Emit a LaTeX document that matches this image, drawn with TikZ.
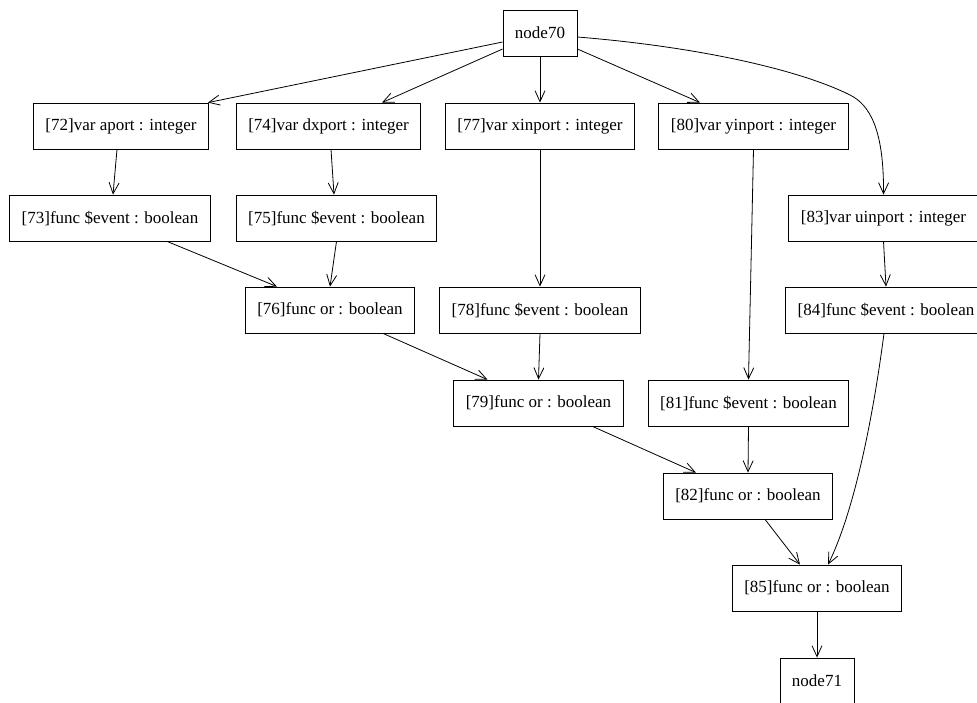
\documentclass[tikz,border=0pt]{standalone}
\usepackage{fontspec}
\setmainfont{Liberation Serif}
\usepackage{tikz}
\usetikzlibrary{arrows.meta}

\begin{document}
\begin{tikzpicture}[
  x=1pt, y=-1pt,
  box/.style={draw, line width=0.8pt, align=center, inner xsep=12pt, minimum height=46pt, font=\fontsize{17}{20}\selectfont},
  edge/.style={line width=0.8pt, -{Straight Barb[length=11pt,width=10pt]}}
]
  \useasboundingbox (0,0) rectangle (977,702);
  \node[box] (n70) at (540,33) {node70};
  \node[box] (n72) at (121,126) {[72]var aport : integer};
  \node[box] (n74) at (328.5,126) {[74]var dxport : integer};
  \node[box] (n77) at (540,126) {[77]var xinport : integer};
  \node[box] (n80) at (753.5,126) {[80]var yinport : integer};
  \node[box] (n73) at (110,218) {[73]func \$event : boolean};
  \node[box] (n75) at (336.5,218) {[75]func \$event : boolean};
  \node[box] (n83) at (883.5,218) {[83]var uinport : integer};
  \node[box] (n76) at (330,310) {[76]func or : boolean};
  \node[box] (n78) at (540,310) {[78]func \$event : boolean};
  \node[box] (n84) at (886,310) {[84]func \$event : boolean};
  \node[box] (n79) at (538.5,403) {[79]func or : boolean};
  \node[box] (n81) at (748.5,403) {[81]func \$event : boolean};
  \node[box] (n82) at (748,496) {[82]func or : boolean};
  \node[box] (n85) at (817,588) {[85]func or : boolean};
  \node[box] (n71) at (817,681) {node71};

  \draw[edge] ([yshift=-9pt]n70.west) -- ([xshift=-1pt]n72.north east);
  \draw[edge] ([yshift=-16pt]n70.west) -- ([xshift=53.5pt]n74.north);
  \draw[edge] (n70.south) -- (n77.north);
  \draw[edge] ([yshift=-16pt]n70.east) -- ([xshift=-53.5pt]n80.north);
  \draw[edge] ([yshift=-4pt]n70.east) .. controls (700,47) and (800,70) .. (850,95)
    .. controls (870,105) and (884,130) .. (n83.north);
  \draw[edge] ([xshift=-4pt]n72.south) -- ([xshift=3pt]n73.north);
  \draw[edge] ([xshift=2.5pt]n74.south) -- ([xshift=-2.5pt]n75.north);
  \draw[edge] ([xshift=57pt]n73.south) -- ([xshift=-53pt]n76.north);
  \draw[edge] (n75.south) -- (n76.north);
  \draw[edge] (n77.south) -- (n78.north);
  \draw[edge] (n80.south) -- (n81.north);
  \draw[edge] (n83.south) -- (n84.north);
  \draw[edge] ([xshift=53pt]n76.south) -- ([xshift=-51pt]n79.north);
  \draw[edge] (n78.south) -- (n79.north);
  \draw[edge] ([xshift=54pt]n79.south) -- ([xshift=-52pt]n82.north);
  \draw[edge] (n81.south) -- (n82.north);
  \draw[edge] ([xshift=17pt]n82.south) -- ([xshift=-17pt]n85.north);
  \draw[edge] ([xshift=-2pt]n84.south) .. controls (870,440) and (850,520) .. ([xshift=11pt]n85.north);
  \draw[edge] (n85.south) -- (n71.north);
\end{tikzpicture}
\end{document}
